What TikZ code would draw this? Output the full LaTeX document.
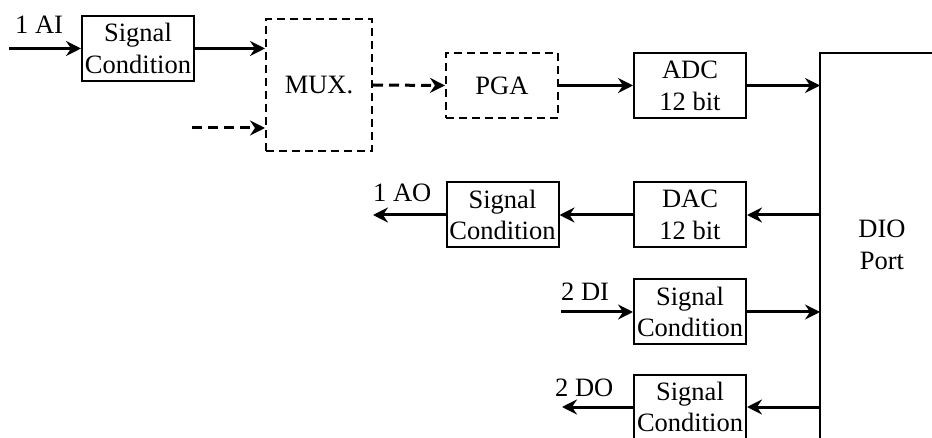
\documentclass[tikz,border=0pt]{standalone}
\usepackage{fontspec}
\setmainfont{Liberation Serif}
\usetikzlibrary{arrows.meta}

\begin{document}
\begin{tikzpicture}[
    x=1pt, y=-1pt,
    % Node styles
    block/.style={
        rectangle,
        draw=black,
        line width=2pt,
        minimum width=112pt,
        minimum height=65pt,
        inner sep=0pt,
        align=center,
        font=\fontsize{26.5}{31.8}\selectfont
    },
    dblock/.style={
        block,
        dash pattern=on 8pt off 5pt
    },
    arrow/.style={
        -{Stealth[length=15pt, width=15pt, inset=5pt]},
        line width=3pt
    },
    darrow/.style={
        arrow,
        dash pattern=on 10pt off 6pt
    },
    tag/.style={
        font=\fontsize{26.5}{31.8}\selectfont,
        inner sep=0pt,
        anchor=base west
    }
]

% Page frame
\useasboundingbox (0,0) rectangle (932,438);
\clip (0,0) rectangle (932,438);

% Input chain
\node[block] (sc1) at (138,48.5) {Signal\\Condition};
\node[dblock, minimum width=106pt, minimum height=132pt] (mux) at (319,85) {MUX.};
\node[dblock] (pga) at (502,85.5) {PGA};
\node[block] (adc) at (690,85.5) {ADC\\12 bit};

% Output and digital blocks
\node[block] (dac) at (690,215) {DAC\\12 bit};
\node[block] (sc2) at (502.5,215) {Signal\\Condition};
\node[block] (sc3) at (690,312) {Signal\\Condition};
\node[block] (sc4) at (690,407) {Signal\\Condition};

% DIO port (open to the right)
\coordinate (port) at (820,53);
\draw[line width=2pt] (945,53) -| (820,450);
\node[font=\fontsize{26.5}{31.8}\selectfont, align=center] (dio) at (882,245) {DIO\\Port};

% Labels
\node[tag] (ai) at (15,34) {1 AI};
\node[tag] (ao) at (373,202) {1 AO};
\node[tag] (di) at (561,301) {2 DI};
\node[tag] (do) at (555,396) {2 DO};

% Free ends
\coordinate (aiin) at (9,48.5);
\coordinate (muxin) at (192,128);
\coordinate (aoout) at (373,215);
\coordinate (diin) at (561,312);
\coordinate (doout) at (562,407);

% Connectors
\draw[arrow] (aiin) -- (sc1.west);
\draw[arrow] (sc1.east) -- (sc1.east -| mux.west);
\draw[darrow] (muxin) -- (muxin -| mux.west);
\draw[darrow] (mux.east) -- (pga.west);
\draw[arrow] (pga) -- (adc);
\draw[arrow] (adc.east) -- (adc.east -| port);

\draw[arrow] (dac.east -| port) -- (dac.east);
\draw[arrow] (dac) -- (sc2);
\draw[arrow] (sc2.west) -- (aoout);

\draw[arrow] (diin) -- (sc3.west);
\draw[arrow] (sc3.east) -- (sc3.east -| port);

\draw[arrow] (sc4.east -| port) -- (sc4.east);
\draw[arrow] (sc4.west) -- (doout);

\end{tikzpicture}
\end{document}
